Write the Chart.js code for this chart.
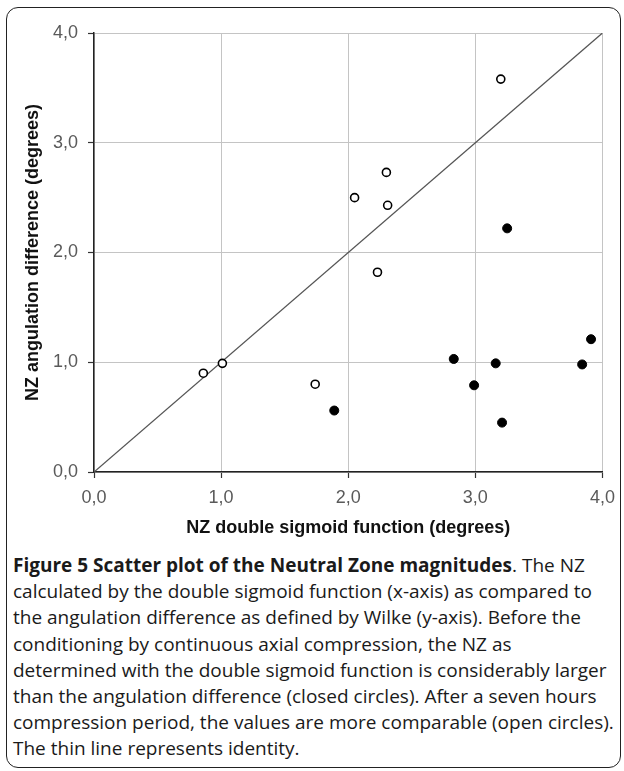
<!DOCTYPE html>
<html>
<head>
<meta charset="utf-8">
<script src="https://cdn.jsdelivr.net/npm/chart.js@4/dist/chart.umd.min.js"></script>
<style>
  html, body { margin: 0; padding: 0; background: #fff; }
  body { width: 624px; height: 771px; position: relative; overflow: hidden; }
  #frame { position: absolute; left: 6px; top: 7px; width: 615px; height: 761px;
           border: 1.5px solid #222; border-radius: 12px; box-sizing: border-box; }
  #wrap { position: absolute; left: 0; top: 0; width: 624px; height: 543px; }
  #caption { position: absolute; left: 13px; top: 552px; width: 610px;
             font-family: "Open Sans", "Noto Sans", sans-serif; font-size: 19px;
             line-height: 26.2px; color: #1a1a1a; white-space: pre; }
  #caption b { font-weight: 700; }
</style>
</head>
<body>
<div id="frame"></div>
<div id="wrap"><canvas id="c" width="624" height="543"></canvas></div>
<div id="caption"><b>Figure 5 Scatter plot of the Neutral Zone magnitudes</b>. The NZ
calculated by the double sigmoid function (x-axis) as compared to
the angulation difference as defined by Wilke (y-axis). Before the
conditioning by continuous axial compression, the NZ as
determined with the double sigmoid function is considerably larger
than the angulation difference (closed circles). After a seven hours
compression period, the values are more comparable (open circles).
The thin line represents identity.</div>
<script>
// Open circles: after seven hours compression
const openX = [0.86, 1.01, 1.74, 2.05, 2.23, 2.30, 2.31, 3.20];
const openY = [0.90, 0.99, 0.80, 2.50, 1.82, 2.73, 2.43, 3.58];
// Closed circles: before conditioning
const closedX = [1.89, 2.83, 2.99, 3.16, 3.21, 3.25, 3.84, 3.91];
const closedY = [0.56, 1.03, 0.79, 0.99, 0.45, 2.22, 0.98, 1.21];
// Identity line endpoints
const identity = [0, 4];
// Tick labels
const tickLabels = ['0,0', '1,0', '2,0', '3,0', '4,0'];
const xTitle = 'NZ double sigmoid function (degrees)';
const yTitle = 'NZ angulation difference (degrees)';

const toPts = (xs, ys) => xs.map((x, i) => ({ x: x, y: ys[i] }));

const tickFont = { family: 'Liberation Sans, Arial, sans-serif', size: 18 };
const titleFont = { family: 'Liberation Sans, Arial, sans-serif', size: 18, weight: 'bold' };

new Chart(document.getElementById('c'), {
  type: 'scatter',
  data: {
    datasets: [
      { label: 'open', data: toPts(openX, openY), order: 1,
        pointRadius: 4, pointBackgroundColor: '#ffffff', pointBorderColor: '#000000',
        pointBorderWidth: 1.6, showLine: false },
      { label: 'closed', data: toPts(closedX, closedY), order: 2,
        pointRadius: 4.5, pointBackgroundColor: '#000000', pointBorderColor: '#000000',
        pointBorderWidth: 1, showLine: false },
      { label: 'identity', data: identity.map(v => ({ x: v, y: v })), order: 3,
        showLine: true, pointRadius: 0, borderColor: '#555555', borderWidth: 1.3, fill: false }
    ]
  },
  options: {
    responsive: false,
    animation: false,
    devicePixelRatio: 1,
    layout: { padding: { top: 33, right: 21, left: 0, bottom: 0 } },
    plugins: { legend: { display: false }, tooltip: { enabled: false } },
    scales: {
      x: {
        type: 'linear', min: 0, max: 4,
        afterFit: s => { s.height = 71; },
        ticks: { stepSize: 1, padding: 9, color: '#5a5a5a', font: tickFont,
                 callback: (v) => tickLabels[Math.round(v)] },
        grid: { color: '#c4c4c4', lineWidth: 1, tickLength: 6, tickColor: '#333333', tickWidth: 1.2 },
        border: { color: '#222222', width: 1.5 },
        title: { display: true, text: xTitle, color: '#111111', font: titleFont,
                 padding: { top: 4, bottom: 4 } }
      },
      y: {
        type: 'linear', min: 0, max: 4,
        afterFit: s => { s.width = 94; },
        ticks: { stepSize: 1, padding: 10, color: '#5a5a5a', font: tickFont,
                 callback: (v) => tickLabels[Math.round(v)] },
        grid: { color: '#c4c4c4', lineWidth: 1, tickLength: 6, tickColor: '#333333', tickWidth: 1.2 },
        border: { color: '#222222', width: 1.5 },
        title: { display: true, text: yTitle, color: '#111111', font: titleFont,
                 padding: { top: 22, bottom: 0 } }
      }
    }
  }
});
</script>
</body>
</html>
